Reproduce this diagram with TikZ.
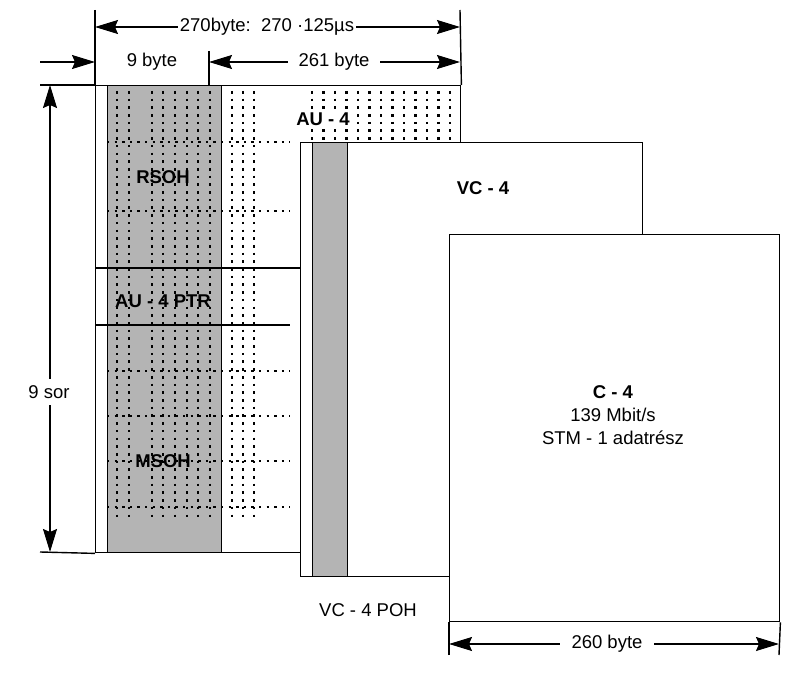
\documentclass[tikz,border=0pt]{standalone}
\usepackage{fontspec}
\setmainfont{Liberation Sans}
\usetikzlibrary{arrows.meta,positioning,calc}
\definecolor{pohgray}{RGB}{180,180,180}

\begin{document}
\begin{tikzpicture}[x=1pt, y=-1pt, line width=1.4pt,
    every node/.style={font=\fontsize{18.5}{23}\selectfont},
    box/.style={draw, fill=white, inner sep=0pt, anchor=north west},
    ohcol/.style={draw, fill=pohgray, inner sep=0pt, anchor=north west},
    dotcol/.style={line width=2.8pt, dash pattern=on 2.6pt off 5.1pt},
    dotrow/.style={line width=2.4pt, dash pattern=on 2.4pt off 5.2pt},
    dim/.style={{Stealth[length=23pt,width=14pt,inset=3pt]}-{Stealth[length=23pt,width=14pt,inset=3pt]}},
    toright/.style={-{Stealth[length=23pt,width=14pt,inset=3pt]}},
    lbl/.style={fill=white, inner sep=3pt},
    blbl/.style={font=\fontsize{18.5}{23}\selectfont\bfseries, inner sep=1pt}
]
    \useasboundingbox (0,0) rectangle (804,679);

    % STM-1 frame
    \node[box, minimum width=365pt, minimum height=467pt] (stm) at (95,85) {};
    \node[ohcol, minimum width=114pt, minimum height=467pt] (soh) at (107,85) {};

    \foreach \x in {117,129,152,163,175,187,198,210,232,243,254}
        \draw[dotcol] (\x,91) -- (\x,521);
    \foreach \i in {0,...,12}
        \draw[dotcol] ({312+11.5*\i},91) -- ({312+11.5*\i},140);
    \foreach \y in {142,211,371,416,461,507}
        \draw[dotrow] (107,\y) -- (290,\y);

    \draw (stm.west |- 0,268) -- (300,268);
    \draw (stm.west |- 0,325) -- (290,325);

    \node[blbl] (rsoh) at (163,177) {RSOH};
    \node[blbl] (ptr) at (163,301) {AU - 4 PTR};
    \node[blbl] (msoh) at (163,461) {MSOH};
    \node[blbl, fill=white, inner sep=3pt] (au4) at (323,119) {AU - 4};

    % VC-4 and C-4
    \node[box, minimum width=342pt, minimum height=434pt] (vc) at (300,142) {};
    \node[ohcol, minimum width=35pt, minimum height=434pt] (poh) at (312,142) {};
    \node[blbl] (vclbl) at (483,188) {VC - 4};
    \node (pohlbl) at (368,610) {VC - 4 POH};

    \node[box, minimum width=330pt, minimum height=387pt] (c4) at (449,234) {};
    \node[align=center] (c4lbl) at (613,415) {\textbf{C - 4}\\139 Mbit/s\\STM - 1 adatrész};

    % dimension lines
    \coordinate (t0) at (95,10);
    \coordinate (t1) at (460,10);
    \coordinate (t2) at (209,51);
    \coordinate (a0) at (40,62);
    \coordinate (l0) at (40,85);
    \coordinate (l1) at (40,552);
    \coordinate (v0) at (50,85);
    \coordinate (v1) at (50,552);
    \coordinate (b0) at (449,655);
    \coordinate (b1) at (779,655);

    \draw (t0) -- (stm.north west);
    \draw (t1) -- (stm.north east);
    \draw (t2) -- (t2 |- stm.north);
    \draw (l0) -- (stm.north west);
    \draw (l1) -- (stm.south west);
    \draw (b0) -- (c4.south west);
    \draw (b1) -- (c4.south east);

    \draw[dim] (t0 |- 0,27) -- (t1 |- 0,27);
    \node[lbl, inner sep=2pt] (wlbl) at (267,27) {270byte:\ \ 270 ·125µs};
    \draw[toright] (a0) -- (t0 |- a0);
    \node (ohlbl) at (152,62) {9 byte};
    \draw[dim] (t2 |- a0) -- (t1 |- a0);
    \node[lbl, inner sep=11pt] (plbl) at (334,62) {261 byte};
    \draw[dim] (v0) -- (v1);
    \node[lbl, inner sep=6pt] (rlbl) at (49,392) {9 sor};
    \draw[dim] (b0 |- 0,644) -- (b1 |- 0,644);
    \node[lbl, inner sep=12pt] (clbl) at (607,644) {260 byte};
\end{tikzpicture}
\end{document}
